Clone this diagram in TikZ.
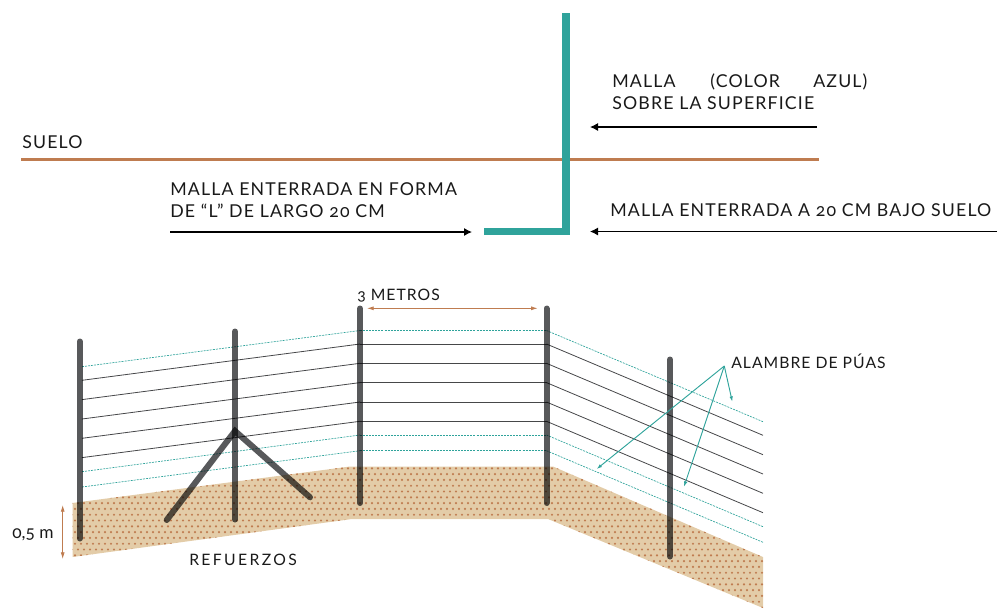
\documentclass[tikz,border=0pt]{standalone}
\usepackage{fontspec}
\usepackage{amsmath}
\setmainfont[Numbers=OldStyle,LetterSpace=6.5]{Lato}
\usetikzlibrary{arrows.meta}
\definecolor{malla}{HTML}{2FA39B}
\definecolor{tierra}{HTML}{BF7C50}
\definecolor{arena}{HTML}{E3CCA8}
\definecolor{poste}{HTML}{58595B}
\tikzset{
	label text/.style={anchor=base west,inner sep=0pt,font=\fontsize{13.3}{16}\selectfont,text=black!90},
	small text/.style={anchor=base west,inner sep=0pt,font=\fontsize{11.8}{14}\selectfont,text=black!90},
	pointer/.style={thick,-{Latex[length=6pt,width=6pt]}},
	barbed/.style={malla,line width=0.5pt,dash pattern=on 1.5pt off 0.8pt},
	plain wire/.style={poste!80!black,line width=0.6pt},
	post/.style={poste,line width=4.5pt,line cap=round,blend mode=multiply},
	span/.style={tierra,line width=0.6pt,{Latex[length=5pt,width=3pt]}-{Latex[length=5pt,width=3pt]}},
	callout/.style={malla,line width=0.7pt,-{Latex[length=4pt,width=2.6pt]}}
}

\begin{document}
\begin{tikzpicture}[x=0.75pt,y=-0.75pt]
	\useasboundingbox (0,0) rectangle (1000,608);

	% Coordinates of the cross section
	\coordinate (S_0) at (21,159.5);
	\coordinate (S_1) at (819,159.5);
	\coordinate (M_0) at (565.8,13);
	\coordinate (M_1) at (565.8,231.5);
	\coordinate (M_2) at (484,231.5);
	\coordinate (A_0) at (817,127);
	\coordinate (A_1) at (590,127);
	\coordinate (B_0) at (170,232);
	\coordinate (B_1) at (472,232);
	\coordinate (C_0) at (997,231.5);
	\coordinate (C_1) at (590,231.5);

	% Ground and mesh
	\draw[tierra,line width=2.3pt] (S_0) -- (S_1);
	\draw[malla,line width=5.6pt] (M_0) -- (M_1) -- (M_2);

	% Arrows
	\draw[pointer] (A_0) -- (A_1);
	\draw[pointer] (B_0) -- (B_1);
	\draw[pointer] (C_0) -- (C_1);

	% Labels of the cross section
	\node[label text] (suelo) at (22,148) {SUELO};
	\node[label text] (enterrada1) at (170,195) {MALLA ENTERRADA EN FORMA};
	\node[label text] (enterrada2) at (170,217) {DE “L” DE LARGO 20 CM};
	\node[label text] (azul1) at (612,87) {MALLA};
	\node[label text] (azul2) at (710,87) {(COLOR};
	\node[label text] (azul3) at (813,87) {AZUL)};
	\node[label text] (sobre) at (612,109) {SOBRE LA SUPERFICIE};
	\node[label text] (bajo) at (610,216) {MALLA ENTERRADA A 20 CM BAJO SUELO};

	% Terrain with its dots
	\fill[arena] (72.5,503) -- (350,466.5) -- (553,466.5) -- (763,557) -- (763,608)
		-- (548,519) -- (352,519) -- (72.5,557) -- cycle;
	\begin{scope}
		\clip (72.5,503) -- (350,466.5) -- (553,466.5) -- (763,557) -- (763,608)
			-- (548,519) -- (352,519) -- (72.5,557) -- cycle;
		\foreach \r in {0,...,24} {
			\foreach \c in {0,...,115} {
				\fill[tierra] ({72+\c*6+mod(\r,2)*3},{468.3+\r*5.8}) circle (1.2);
			}
		}
	\end{scope}

	% Wires, left span
	\foreach \a/\b in {380.3/344,399.6/363.3,419/382.6,438.3/402,457.6/421.3}
		\draw[plain wire] (82,\a) -- (360,\b);
	\foreach \a/\b in {366.7/330.5,471.7/435,487/450.7}
		\draw[barbed] (82,\a) -- (360,\b);

	% Wires, middle span
	\foreach \y in {344,363.3,382.6,402,421.3}
		\draw[plain wire] (360,\y) -- (546.5,\y);
	\foreach \y in {330.5,435,450.7}
		\draw[barbed] (360,\y) -- (546.5,\y);

	% Wires, right span
	\foreach \a/\b in {344/435.3,363.3/454.7,382.6/474,402/493.3,421.3/512.7}
		\draw[plain wire] (546.5,\a) -- (763,\b);
	\foreach \a/\b in {330.5/421.7,435/526.7,450.7/542.3}
		\draw[barbed] (546.5,\a) -- (763,\b);

	% Posts
	\foreach \name/\x/\top/\bottom in {1/79.7/341.5/538.5,2/235/331.5/519.5,3/360/308.5/503,4/546.5/308.5/503,5/670/359.5/556.5} {
		\coordinate (T_\name) at (\x,\top);
		\coordinate (G_\name) at (\x,\bottom);
		\draw[post] (T_\name) -- (G_\name);
	}

	% Braces
	\coordinate (R_0) at (235,431);
	\coordinate (R_1) at (166.7,520);
	\coordinate (R_2) at (310,497.3);
	\draw[post,line join=miter] (R_1) -- (R_0) -- (R_2);

	% Spans and callouts
	\coordinate (H_0) at (62.7,505);
	\coordinate (H_1) at (62.7,559);
	\coordinate (W_0) at (367,308.3);
	\coordinate (W_1) at (537.7,308.3);
	\draw[span] (H_0) -- (H_1);
	\draw[span] (W_0) -- (W_1);

	\coordinate (P_0) at (724.3,366);
	\coordinate (P_1) at (596.7,469);
	\coordinate (P_2) at (684,486.7);
	\coordinate (P_3) at (732.3,401.7);
	\foreach \i in {1,2,3}
		\draw[callout] (P_0) -- (P_\i);

	% Labels of the fence
	\node[small text] (metros) at (357,300) {3 METROS};
	\node[small text,font=\fontsize{13}{14}\selectfont\addfontfeature{LetterSpace=0}] (altura) at (12,538) {0,5 m};
	\node[small text,font=\fontsize{11.8}{14}\selectfont\addfontfeature{LetterSpace=15}] (refuerzos) at (189,565) {REFUERZOS};
	\node[small text] (alambre) at (731,368) {ALAMBRE DE PÚAS};
\end{tikzpicture}
\end{document}
